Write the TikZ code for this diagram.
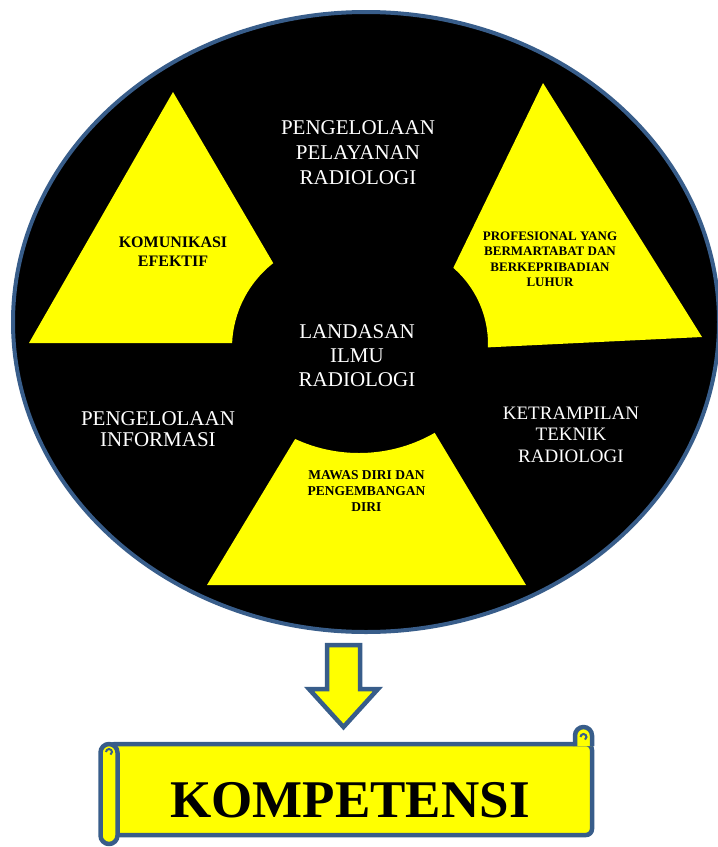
\documentclass[tikz,border=0pt]{standalone}
\usepackage{fontspec}
\setmainfont{Liberation Serif}
\usetikzlibrary{positioning}
\definecolor{rimblue}{RGB}{56,93,138}
\definecolor{wedgeyellow}{RGB}{255,255,0}
\tikzset
{
    whitelabel/.style = {text=white, align=center, font=\fontsize{21}{24}\selectfont},
    blacklabel/.style = {text=black, align=center, font=\bfseries\fontsize{13}{15.5}\selectfont},
    wedge/.style      = {fill=wedgeyellow, even odd rule},
    rim/.style        = {draw=rimblue, line width=4pt},
    scrollpart/.style = {draw=rimblue, fill=wedgeyellow, line width=4.5pt, line join=round},
    curl/.style       = {draw=rimblue, line width=2pt},
}

\begin{document}
\begin{tikzpicture}[x=1pt, y=-1pt]
   \useasboundingbox (0,0) rectangle (718,847);

   \fill[black] (366,322) ellipse [x radius=353pt, y radius=310pt];

   % yellow wedges, each with its own bite out of the middle
   \begin{scope}
      \clip (173,92) -- (29,343) -- (320,343) -- cycle;
      \fill[wedge] (0,0) rectangle (718,847) (340,348) circle [radius=108pt];
   \end{scope}
   \begin{scope}
      \clip (543,83) -- (413,351) -- (702,337) -- cycle;
      \fill[wedge] (0,0) rectangle (718,847) (387,344) circle [radius=101pt];
   \end{scope}
   \begin{scope}
      \clip (367,320) -- (207,585) -- (526,585) -- cycle;
      \fill[wedge] (0,0) rectangle (718,847) (359,301) circle [radius=152pt];
   \end{scope}

   \draw[rim] (366,322) ellipse [x radius=353pt, y radius=310pt];

   \node (pelayanan)   [whitelabel, font=\fontsize{21}{25}\selectfont]   at (358,153)   {PENGELOLAAN\\PELAYANAN\\RADIOLOGI};
   \node (landasan)    [whitelabel]                                      at (357,356)   {LANDASAN\\ILMU\\RADIOLOGI};
   \node (informasi)   [whitelabel, font=\fontsize{21}{21}\selectfont]   at (158,429.5) {PENGELOLAAN\\INFORMASI};
   \node (ketrampilan) [whitelabel, font=\fontsize{19}{21.5}\selectfont] at (571,434.5) {KETRAMPILAN\\TEKNIK\\RADIOLOGI};

   \node (komunikasi)  [blacklabel, font=\bfseries\fontsize{16}{19}\selectfont]   at (173,251.5) {KOMUNIKASI\\EFEKTIF};
   \node (profesional) [blacklabel]                                                at (550,259)   {PROFESIONAL YANG\\BERMARTABAT DAN\\BERKEPRIBADIAN\\LUHUR};
   \node (mawas)       [blacklabel, font=\bfseries\fontsize{13.5}{16}\selectfont] at (366.5,491) {MAWAS DIRI DAN\\PENGEMBANGAN\\DIRI};

   % arrow down to the scroll
   \filldraw[scrollpart, line join=miter] (327,645) -- (360,645) -- (360,689) -- (378,689)
      -- (343.5,727) -- (309,689) -- (327,689) -- cycle;

   % scroll
   \filldraw[scrollpart, rounded corners=6pt] (109,744) rectangle (592,835);
   \filldraw[scrollpart, rounded corners=8.5pt] (575,746) -- (575,727) -- (592,727) -- (592,746);
   \draw[curl] (580.5,737) arc [start angle=180, end angle=-60, radius=3pt];
   \filldraw[scrollpart, rounded corners=8.5pt] (100.5,744) rectangle (117.5,844);
   \draw[curl] (106,752) arc [start angle=180, end angle=-60, radius=3pt];

   \node (kompetensi) [font=\bfseries\fontsize{53}{60}\selectfont] at (350,800) {KOMPETENSI};
\end{tikzpicture}
\end{document}
